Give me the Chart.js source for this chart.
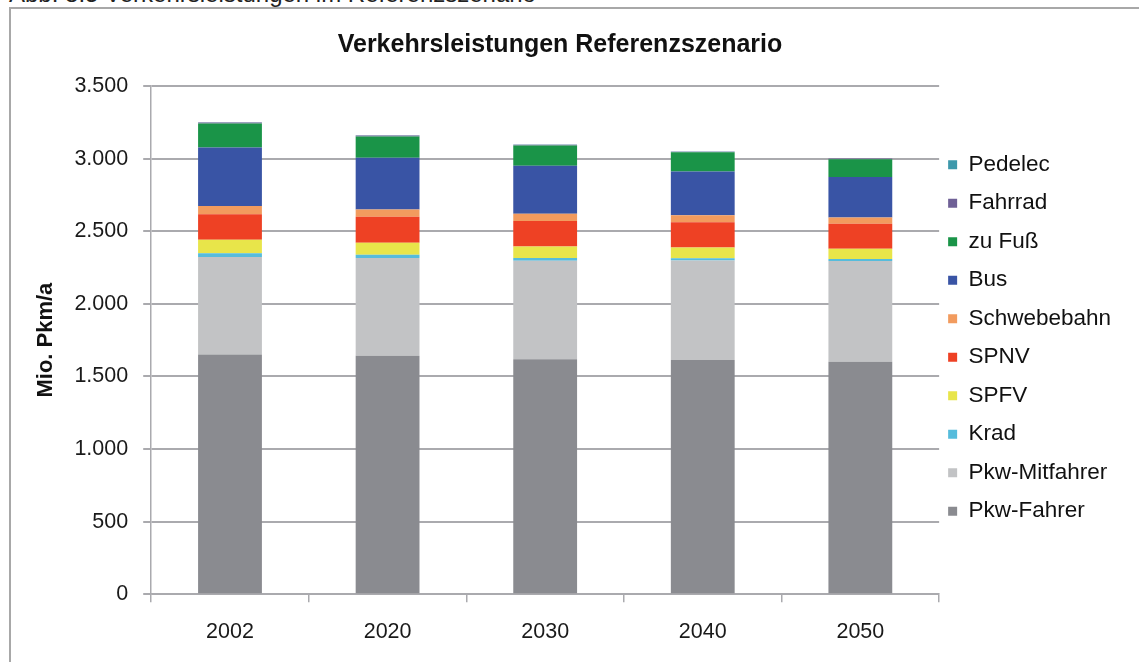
<!DOCTYPE html>
<html lang="de">
<head>
<meta charset="utf-8">
<title>Verkehrsleistungen Referenzszenario</title>
<script src="https://cdn.jsdelivr.net/npm/chart.js@4"></script>
<style>
    html, body {
        margin: 0;
        padding: 0;
        background: #fff;
        overflow: hidden;
    }
    #caption {
        position: absolute;
        left: 9px;
        top: -18px;
        font: 24px/24px "Liberation Sans", Arial, sans-serif;
        color: #222;
        white-space: nowrap;
    }
    #frame {
        position: absolute;
        left: 9px;
        top: 7px;
        width: 1200px;
        height: 720px;
        border: 2px solid #a8a8a8;
    }
    #chart {
        position: absolute;
        left: 0;
        top: 0;
    }
</style>
</head>
<body>
<div id="caption">Abb. 8.5 Verkehrsleistungen im Referenzszenario</div>
<div id="frame"></div>
<canvas id="chart" width="1139" height="662"></canvas>

<script>
// data (Mio. Pkm/a), stacked bottom to top
const years = ['2002', '2020', '2030', '2040', '2050'];

const pkwFahrer    = [1650, 1643, 1618, 1613, 1601];
const pkwMitfahrer = [672, 672, 679, 686, 693];
const krad         = [27, 23, 18, 14, 14];
const spfv         = [92, 82, 80, 75, 71];
const spnv         = [176, 179, 176, 174, 172];
const schwebebahn  = [57, 50, 50, 48, 43];
const bus          = [402, 356, 330, 302, 279];
const zuFuss       = [166, 148, 140, 131, 122];
const fahrrad      = [6, 6, 5, 5, 5];
const pedelec      = [2, 2, 1, 1, 1];

const yTicks = [0, 500, 1000, 1500, 2000, 2500, 3000, 3500];

const series = [
    { label: 'Pkw-Fahrer',    data: pkwFahrer,    color: '#8a8b90' },
    { label: 'Pkw-Mitfahrer', data: pkwMitfahrer, color: '#c2c3c5' },
    { label: 'Krad',          data: krad,         color: '#56bcdc' },
    { label: 'SPFV',          data: spfv,         color: '#e8e54a' },
    { label: 'SPNV',          data: spnv,         color: '#ee4124' },
    { label: 'Schwebebahn',   data: schwebebahn,  color: '#f29b5e' },
    { label: 'Bus',           data: bus,          color: '#3954a5' },
    { label: 'zu Fuß',        data: zuFuss,       color: '#1a9448' },
    { label: 'Fahrrad',       data: fahrrad,      color: '#6f6096' },
    { label: 'Pedelec',       data: pedelec,      color: '#3d98ab' }
];

function formatDe(v) {
    return String(v).replace(/\B(?=(\d{3})+(?!\d))/g, '.');
}

// small position tweaks for legend and title, like the original
const boxNudge = {
    id: 'boxNudge',
    afterLayout(chart) {
        const lg = chart.legend;
        lg.left -= 7;
        lg.right -= 7;
        const t = chart.titleBlock;
        if (t) {
            t.left -= 10;
            t.right -= 10;
        }
    }
};

Chart.defaults.font.family = '"Liberation Sans", Arial, sans-serif';
Chart.defaults.color = '#1a1a1a';

const gridColor = '#aaaaae';

new Chart(document.getElementById('chart').getContext('2d'), {
    type: 'bar',
    data: {
        labels: years,
        datasets: series.map(s => ({
            label: s.label,
            data: s.data,
            backgroundColor: s.color,
            borderWidth: 0,
            categoryPercentage: 1,
            barPercentage: 0.405
        }))
    },
    options: {
        responsive: false,
        animation: false,
        layout: {
            padding: { left: 12, right: 11, top: 14, bottom: 0 }
        },
        plugins: {
            title: {
                display: true,
                text: 'Verkehrsleistungen Referenzszenario',
                color: '#111',
                font: { size: 25, weight: 'bold' },
                padding: { top: 16, bottom: 26 }
            },
            legend: {
                position: 'right',
                reverse: true,
                labels: {
                    boxWidth: 9,
                    boxHeight: 9,
                    padding: 16,
                    color: '#111',
                    font: { size: 22.5 }
                }
            },
            tooltip: { enabled: false }
        },
        scales: {
            x: {
                stacked: true,
                grid: {
                    drawOnChartArea: false,
                    drawTicks: true,
                    tickLength: 8,
                    color: gridColor,
                    lineWidth: 1.5
                },
                border: { color: gridColor, width: 1.5 },
                ticks: {
                    padding: 17,
                    font: { size: 21.5 },
                    color: '#1a1a1a'
                }
            },
            y: {
                stacked: true,
                min: 0,
                max: 3500,
                afterBuildTicks(axis) {
                    axis.ticks = yTicks.map(v => ({ value: v }));
                },
                grid: {
                    color: gridColor,
                    lineWidth: 2,
                    tickLength: 8
                },
                border: { color: gridColor, width: 1.5 },
                ticks: {
                    padding: 15,
                    font: { size: 21.5 },
                    color: '#1a1a1a',
                    callback: v => formatDe(v)
                },
                title: {
                    display: true,
                    text: 'Mio. Pkm/a',
                    color: '#111',
                    font: { size: 22, weight: 'bold' },
                    padding: { top: 21, bottom: 0 }
                }
            }
        }
    },
    plugins: [boxNudge]
});
</script>
</body>
</html>
